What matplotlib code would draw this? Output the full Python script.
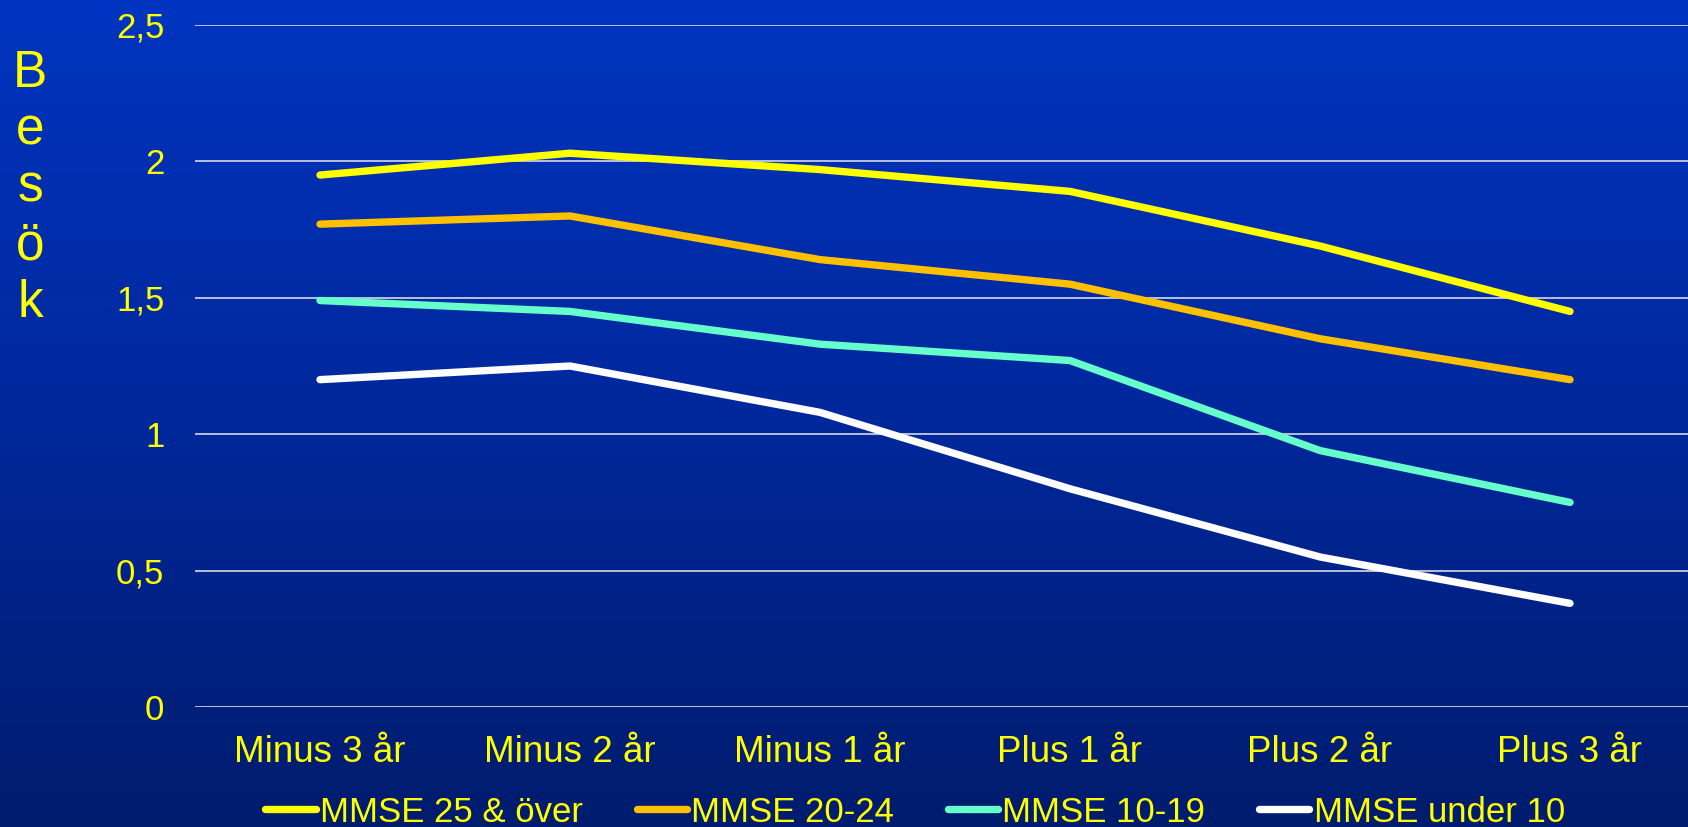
import numpy as np
import matplotlib
matplotlib.use("Agg")
import matplotlib.pyplot as plt
from matplotlib.colors import LinearSegmentedColormap

categories = ["Minus 3 år", "Minus 2 år", "Minus 1 år", "Plus 1 år", "Plus 2 år", "Plus 3 år"]
series_names = ["MMSE 25 & över", "MMSE 20-24", "MMSE 10-19", "MMSE under 10"]
mmse_25_plus = [1.95, 2.03, 1.97, 1.89, 1.69, 1.45]
mmse_20_24 = [1.77, 1.80, 1.64, 1.55, 1.35, 1.20]
mmse_10_19 = [1.49, 1.45, 1.33, 1.27, 0.94, 0.75]
mmse_under_10 = [1.20, 1.25, 1.08, 0.80, 0.55, 0.38]
yticks = [0, 0.5, 1, 1.5, 2, 2.5]
ytick_labels = ["0", "0,5", "1", "1,5", "2", "2,5"]
colors = ["#FFFF00", "#FFC000", "#66FFCC", "#FFFFFF"]

fam = ["Liberation Sans", "Arial", "DejaVu Sans"]

W, H = 1688, 827
fig = plt.figure(figsize=(W / 100, H / 100), dpi=100)

# background gradient
bg = fig.add_axes([0, 0, 1, 1], zorder=-10)
cmap = LinearSegmentedColormap.from_list("bg", ["#0034C0", "#00289C", "#001C6E"])
grad = np.linspace(0, 1, 256).reshape(-1, 1)
bg.imshow(grad, aspect="auto", cmap=cmap, extent=[0, 1, 0, 1], origin="upper")
bg.set_axis_off()

left, right, top, bottom = 195, 1695, 25, 707
ax = fig.add_axes([left / W, 1 - bottom / H, (right - left) / W, (bottom - top) / H])
ax.patch.set_alpha(0)

x = np.arange(len(categories))
data = [mmse_25_plus, mmse_20_24, mmse_10_19, mmse_under_10]
for vals, c, n in zip(data, colors, series_names):
    ax.plot(x, vals, color=c, lw=5.3, solid_capstyle="round", solid_joinstyle="round", label=n, zorder=3)

ax.set_xlim(-0.5, len(categories) - 0.5)
ax.set_ylim(0, 2.5)
ax.set_yticks(yticks)
ax.set_yticklabels(ytick_labels, fontsize=25, color="#FFFF00", family=fam)
ax.set_xticks(x)
ax.set_xticklabels(categories, fontsize=26.5, color="#FFFF00", family=fam)
ax.tick_params(axis="both", length=0)
ax.tick_params(axis="y", pad=22)
ax.tick_params(axis="x", pad=20)
ax.grid(axis="y", color="#C8CCE0", lw=1.3)
ax.set_axisbelow(True)
for s in ax.spines.values():
    s.set_visible(False)

# vertical stacked y label
label = "Besök"
for i, ch in enumerate(label):
    fig.text(30 / W, 1 - (87 + i * 57.5) / H, ch, fontsize=37, color="#FFFF00",
             family=fam, ha="center", va="baseline")

leg = ax.legend(loc="center", bbox_to_anchor=(915 / W, 1 - 812 / H), bbox_transform=fig.transFigure,
                ncol=4, frameon=False, prop={"family": fam, "size": 25},
                handlelength=1.45, handletextpad=0.12,
                columnspacing=1.55, borderpad=0, borderaxespad=0)
for t in leg.get_texts():
    t.set_color("#FFFF00")

fig.savefig("out.png", dpi=100)
